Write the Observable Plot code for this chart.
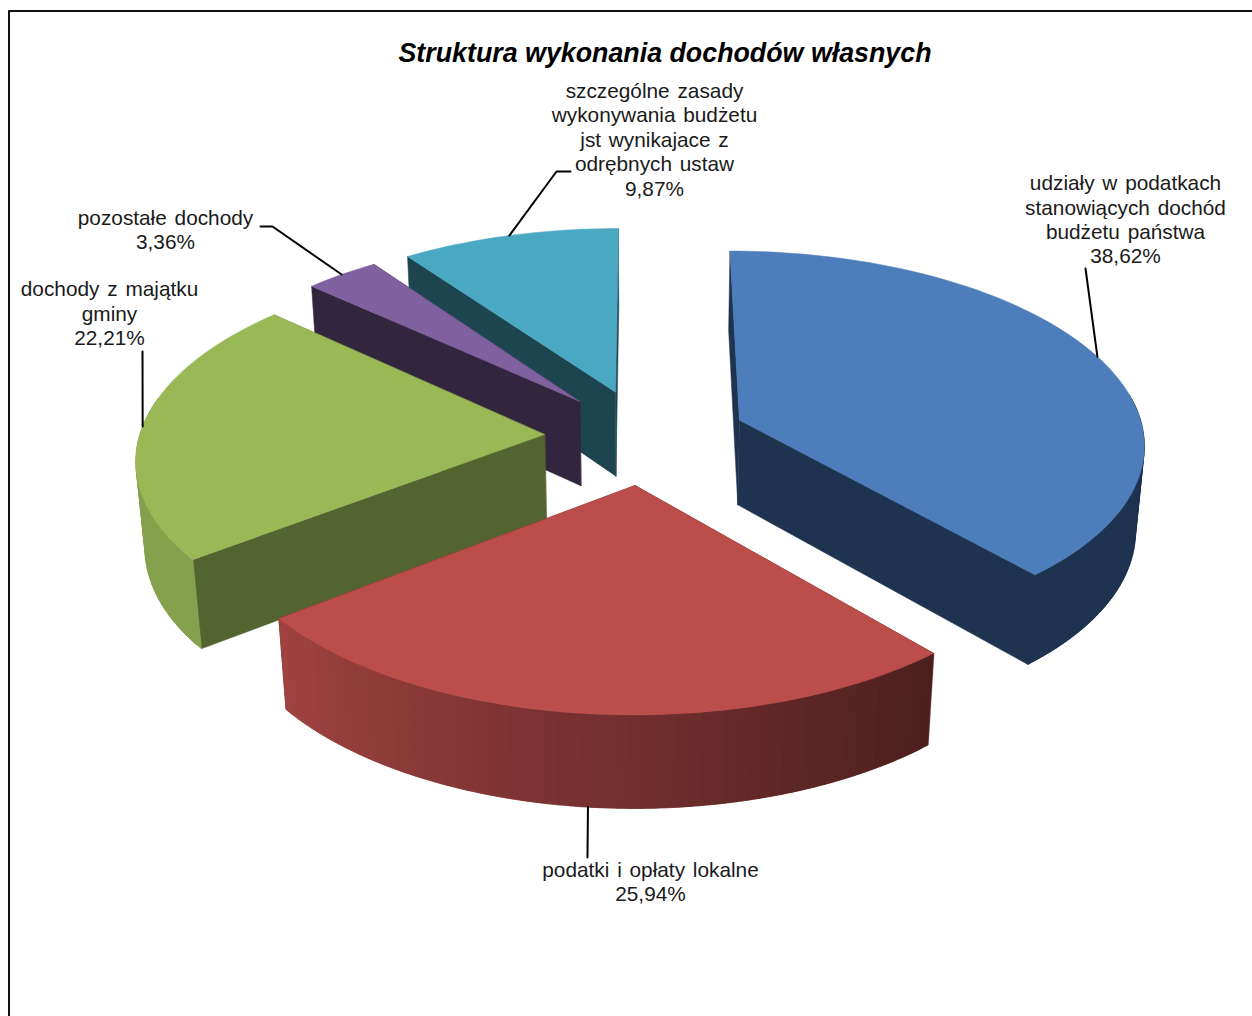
<!DOCTYPE html>
<html><head><meta charset="utf-8">
<script src="https://cdn.jsdelivr.net/npm/d3@7"></script>
<script src="https://cdn.jsdelivr.net/npm/@observablehq/plot@0.6"></script>
<style>html,body{margin:0;padding:0;background:#fff}svg{display:block}.lbl{word-spacing:2px}</style>
</head><body><div id="chart"></div>
<script>
// data
const chartTitle = "Struktura wykonania dochodów własnych";
const names = [
  "udziały w podatkach\nstanowiących dochód\nbudżetu państwa",
  "podatki i opłaty lokalne",
  "dochody z majątku\ngminy",
  "pozostałe dochody",
  "szczególne zasady\nwykonywania budżetu\njst wynikajace z\nodrębnych ustaw"
];
const shares = [38.62, 25.94, 22.21, 3.36, 9.87];
const valueLabels = ["38,62%", "25,94%", "22,21%", "3,36%", "9,87%"];
const topColors = ["#4d7ebb", "#bb4e4b", "#9ab956", "#7f619f", "#4aa8c3"];
const cutColors = ["#1e3350", "#4a1c1a", "#536430", "#32263f", "#1d4550"];
const hue = ["#4f81bd", "#c0504d", "#9bbb59", "#8064a2", "#4bacc6"];
const labelX = [1125, 650, 109, 165, 654];
const labelY = [218.5, 880.5, 312.5, 228.5, 138.5];
const leaderEnds = [[[1085, 268]], [[587, 857]], [[142, 351]], [[272, 226], [260, 226]], [[556, 171], [570, 171]]];
const paintOrder = [4, 3, 2, 0, 1];

// 3-D pie camera
const W = 1252, H = 1016;
const cx = 645, cy = 436, vx = 645, R = 405, tilt = 191.5, k = 0.113, m = 0.018, D = 87, explode = 0.25;
const rad = d => d * Math.PI / 180;
const total = d3.sum(shares);
const project = (u, v, d) => {
  const w = 1 + k * v + m * d;
  return {x: vx + (cx + R * u - vx) / w, y: cy + (-tilt * v + D * d) / w};
};
const slices = [];
let acc = 0;
shares.forEach((s, i) => {
  const a0 = acc, a1 = acc + s / total * 360;
  acc = a1;
  const mid = rad((a0 + a1) / 2);
  slices.push({i, a0, a1, ox: Math.sin(mid) * explode, oy: Math.cos(mid) * explode, mid});
});
const rimPt = (sl, a, d) => project(sl.ox + Math.sin(rad(a)), sl.oy + Math.cos(rad(a)), d);
const apexPt = (sl, d) => project(sl.ox, sl.oy, d);
const rimShade = a => a <= 232 ? 0.39 + (a - 139) / 93 * 0.44 : 0.86;
const polys = [];
let pid = 0;
const addPoly = (pts, color) => { pid++; pts.forEach(p => polys.push({x: p.x, y: p.y, id: pid, color})); };
for (const idx of paintOrder) {
  const sl = slices[idx];
  addPoly([apexPt(sl, 0), rimPt(sl, sl.a0, 0), rimPt(sl, sl.a0, 1), apexPt(sl, 1)], cutColors[idx]);
  addPoly([apexPt(sl, 0), rimPt(sl, sl.a1, 0), rimPt(sl, sl.a1, 1), apexPt(sl, 1)], cutColors[idx]);
  const n = Math.ceil((sl.a1 - sl.a0) / 1.5);
  const step = (sl.a1 - sl.a0) / n;
  // outer wall: only the part that faces the camera; each strip overlaps the next
  for (let j = 0; j < n; j++) {
    const a = sl.a0 + step * j;
    if (Math.cos(rad(a)) > 0.15) continue;
    const b = Math.min(sl.a1, a + step * 2);
    const arc = d3.range(0, 5).map(t => a + (b - a) * t / 4);
    const c = d3.rgb(hue[idx]); const f = rimShade(a + step / 2);
    const wall = a + step / 2 <= 139 ? cutColors[idx] : d3.rgb(c.r * f, c.g * f, c.b * f).formatHex();
    addPoly([...arc.map(t => rimPt(sl, t, 0)), ...arc.slice().reverse().map(t => rimPt(sl, t, 1))], wall);
  }
  const top = [apexPt(sl, 0)];
  for (let j = 0; j <= n; j++) top.push(rimPt(sl, sl.a0 + step * j, 0));
  addPoly(top, topColors[idx]);
}
const leaders = [];
slices.forEach(sl => {
  const start = rimPt(sl, (sl.a0 + sl.a1) / 2, sl.i === 1 ? 1 : 0);
  [start, ...leaderEnds[sl.i].map(([x, y]) => ({x, y}))].forEach(p => leaders.push({x: p.x, y: p.y, id: sl.i}));
});
const labels = names.map((n, i) => ({x: labelX[i], y: labelY[i], text: n + "\n" + valueLabels[i]}));

const chart = Plot.plot({
  width: W, height: H, margin: 0,
  x: {domain: [0, W], range: [0, W], axis: null},
  y: {domain: [0, H], range: [0, H], axis: null},
  color: {type: "identity"},
  style: {background: "#fff", fontFamily: "'Liberation Sans', Arial, sans-serif"},
  marks: [
    Plot.ruleY([10.5], {x1: 8.5, x2: W, stroke: "#111", strokeWidth: 2}),
    Plot.ruleX([8.5], {y1: 10.5, y2: H, stroke: "#111", strokeWidth: 2}),
    Plot.line(polys, {x: "x", y: "y", z: "id", fill: "color", stroke: "color", strokeWidth: 0.5, curve: "linear-closed"}),
    Plot.line(leaders, {x: "x", y: "y", z: "id", stroke: "#000", strokeWidth: 2}),
    Plot.text(labels, {x: "x", y: "y", text: "text", fontSize: 20.8, fill: "#1a1a1a", lineHeight: 1.173, textAnchor: "middle", lineAnchor: "middle", className: "lbl"}),
    Plot.text([chartTitle], {x: () => 664.5, y: () => 53, text: d => d, fontSize: 26.8, fontWeight: "bold", fontStyle: "italic", fill: "#000"})
  ]
});
document.getElementById("chart").append(chart);
</script></body></html>
